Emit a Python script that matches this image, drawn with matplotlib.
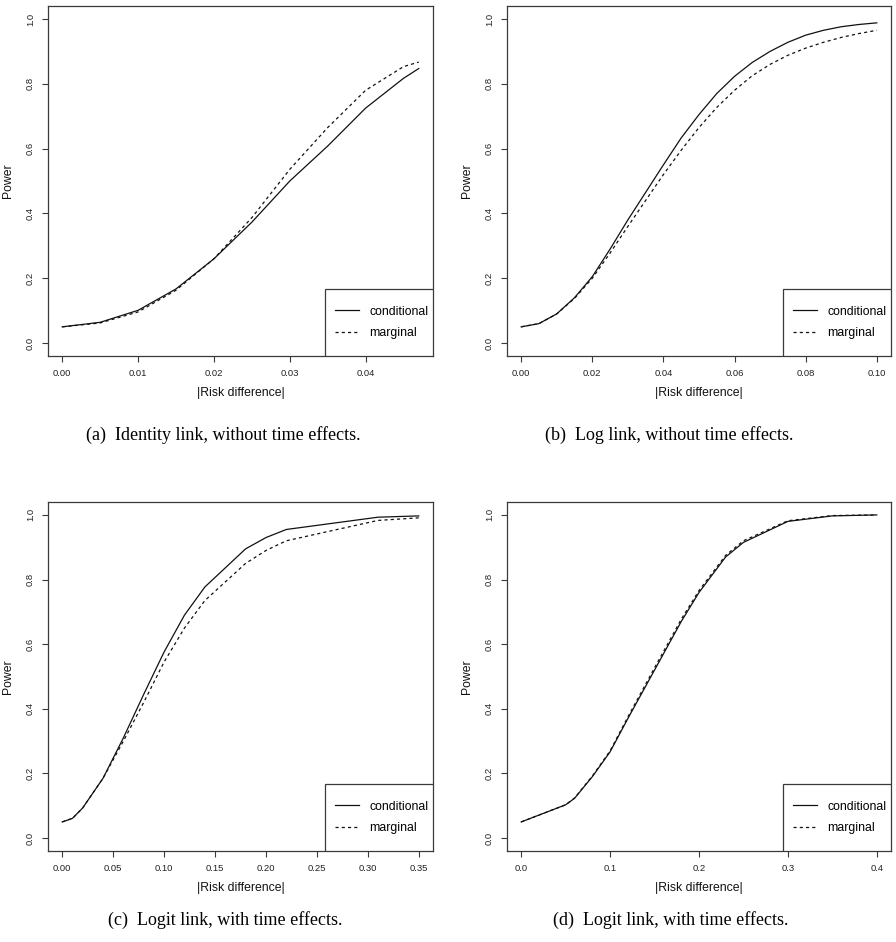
import numpy as np
import matplotlib
matplotlib.use("Agg")
import matplotlib.pyplot as plt
from matplotlib.patches import Rectangle
from matplotlib.ticker import FormatStrFormatter

plt.rcParams['font.family'] = ['Liberation Sans', 'DejaVu Sans']

# (a) identity link, no time effects
rd_a = [0, 0.005, 0.01, 0.015, 0.02, 0.025, 0.03, 0.035, 0.04, 0.045, 0.047]
cond_a = [0.05, 0.064, 0.101, 0.167, 0.26, 0.373, 0.50, 0.608, 0.725, 0.817, 0.847]
marg_a = [0.05, 0.062, 0.096, 0.163, 0.26, 0.387, 0.536, 0.665, 0.78, 0.853, 0.867]

# (b) log link, no time effects
rd_b = [0, 0.005, 0.01, 0.015, 0.02, 0.025, 0.03, 0.035, 0.04, 0.045, 0.05,
        0.055, 0.06, 0.065, 0.07, 0.075, 0.08, 0.085, 0.09, 0.095, 0.1]
cond_b = [0.05, 0.06, 0.09, 0.14, 0.205, 0.29, 0.38, 0.465, 0.55, 0.633, 0.705,
          0.77, 0.823, 0.866, 0.90, 0.928, 0.95, 0.965, 0.976, 0.983, 0.988]
marg_b = [0.05, 0.06, 0.09, 0.138, 0.2, 0.278, 0.36, 0.44, 0.52, 0.595, 0.665,
          0.727, 0.78, 0.825, 0.86, 0.888, 0.91, 0.928, 0.943, 0.955, 0.965]

# (c) logit link, with time effects
rd_c = [0, 0.01, 0.02, 0.04, 0.06, 0.08, 0.10, 0.12, 0.14, 0.18, 0.20, 0.22, 0.31, 0.35]
cond_c = [0.05, 0.061, 0.093, 0.185, 0.31, 0.445, 0.576, 0.69, 0.777, 0.895, 0.93, 0.955, 0.993, 0.997]
marg_c = [0.05, 0.061, 0.093, 0.185, 0.30, 0.42, 0.545, 0.65, 0.735, 0.85, 0.89, 0.92, 0.983, 0.991]

# (d) logit link, with time effects
rd_d = [0, 0.05, 0.06, 0.08, 0.10, 0.12, 0.15, 0.18, 0.20, 0.23, 0.25, 0.30, 0.35, 0.40]
cond_d = [0.05, 0.103, 0.123, 0.19, 0.267, 0.37, 0.52, 0.67, 0.76, 0.87, 0.915, 0.98, 0.997, 1.0]
marg_d = [0.05, 0.103, 0.124, 0.192, 0.27, 0.375, 0.527, 0.677, 0.766, 0.875, 0.92, 0.982, 0.998, 1.0]

captions = ["(a)  Identity link, without time effects.",
            "(b)  Log link, without time effects.",
            "(c)  Logit link, with time effects.",
            "(d)  Logit link, with time effects."]

panels = [
    (rd_a, cond_a, marg_a, np.arange(0, 0.041, 0.01), "%.2f"),
    (rd_b, cond_b, marg_b, np.arange(0, 0.101, 0.02), "%.2f"),
    (rd_c, cond_c, marg_c, np.arange(0, 0.351, 0.05), "%.2f"),
    (rd_d, cond_d, marg_d, np.arange(0, 0.41, 0.1), "%.1f"),
]

W, H = 896, 942
fig = plt.figure(figsize=(W / 100, H / 100), dpi=100)

# axes boxes in pixels: left, top, right, bottom
boxes = [(48, 6, 433, 356), (507, 6, 891, 356),
         (48, 502, 433, 851), (507, 502, 891, 851)]
cap_pos = [(223, 435), (669, 435), (225, 920), (671, 920)]

edge = "#3a3a3a"
for k, (x, c, m, xt, fmt) in enumerate(panels):
    l, t, r, b = boxes[k]
    aw, ah = r - l, b - t
    ax = fig.add_axes([l / W, 1 - b / H, aw / W, ah / H])
    ax.plot(x, c, color="#111111", lw=0.9, label="conditional")
    ax.plot(x, m, color="#111111", lw=0.9, ls=(0, (2.5, 2.5)), label="marginal")
    span = x[-1] - x[0]
    ax.set_xlim(x[0] - 0.04 * span, x[-1] + 0.04 * span)
    ax.set_ylim(-0.04, 1.04)
    ax.set_xticks(xt)
    ax.set_yticks(np.arange(0, 1.01, 0.2))
    ax.xaxis.set_major_formatter(FormatStrFormatter(fmt))
    ax.yaxis.set_major_formatter(FormatStrFormatter("%.1f"))
    for s in ax.spines.values():
        s.set_color(edge)
        s.set_linewidth(0.9)
    ax.tick_params(direction="out", length=4.3, width=0.8, color=edge,
                   labelsize=6.8, labelcolor="#222222", pad=5)
    for lab in ax.get_yticklabels():
        lab.set_rotation(90)
        lab.set_va("center")
    ax.set_xlabel("|Risk difference|", fontsize=8.8, color="#111111")
    ax.set_ylabel("Power", fontsize=8.8, color="#111111")
    ax.xaxis.set_label_coords(0.5, -37 / ah)
    ax.xaxis.label.set_va("center")
    ax.yaxis.set_label_coords(-40 / aw, 0.5)
    ax.yaxis.label.set_va("center")

    # R-style legend box in the bottom-right corner
    lw_px, lh_px = 108, 67
    x0 = 1 - lw_px / aw
    ax.add_patch(Rectangle((x0, 0), lw_px / aw, lh_px / ah, transform=ax.transAxes,
                           facecolor="white", edgecolor=edge, lw=0.9, zorder=5))
    leg = ax.legend(loc="center left", bbox_to_anchor=(x0 + 10 / aw, 0.5 * lh_px / ah),
                    borderaxespad=0, borderpad=0, frameon=False, fontsize=8.8,
                    handlelength=2.0, handletextpad=0.8, labelspacing=0.8)
    leg.set_zorder(6)

    fig.text(cap_pos[k][0] / W, 1 - cap_pos[k][1] / H, captions[k],
             ha="center", va="center", fontsize=13,
             family=["Liberation Serif", "DejaVu Serif"])

fig.savefig("out.png", dpi=100)
